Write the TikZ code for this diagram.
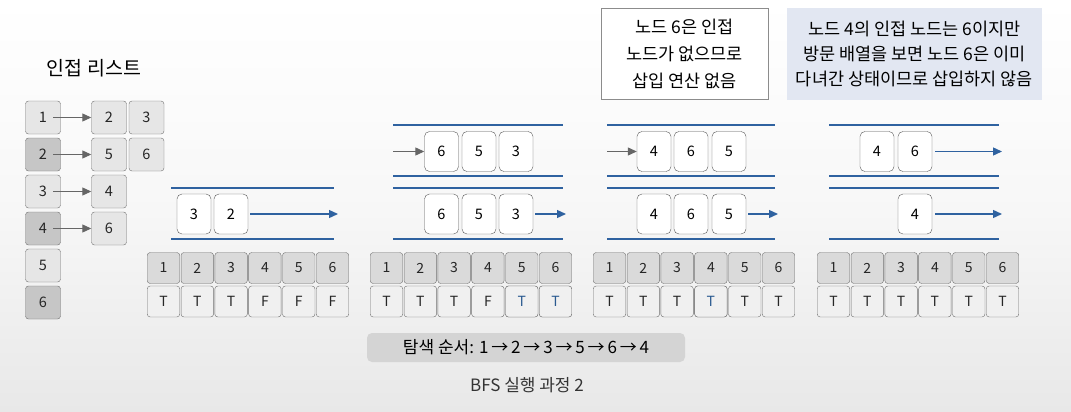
\documentclass[tikz,border=0pt]{standalone}
\usepackage{fontspec}
\setmainfont{Noto Sans CJK KR}
\usetikzlibrary{arrows.meta,calc}
\definecolor{qblue}{HTML}{2F62A0}
\definecolor{lgray}{HTML}{E6E6E6}
\definecolor{dgray}{HTML}{C6C6C6}
\definecolor{vtop}{HTML}{DADADA}
\definecolor{vbot}{HTML}{F0F0F0}
\definecolor{bord}{HTML}{707070}
\definecolor{note}{HTML}{E2E7F2}
\definecolor{tblue}{HTML}{2A5A90}
\tikzset{
  adj/.style={draw=bord, rounded corners=3pt, minimum width=35pt, minimum height=33pt, inner sep=0pt, font=\fontsize{14.5}{16}\selectfont, text=black!85},
  qbox/.style={draw=black!65, fill=white, rounded corners=5pt, minimum width=34pt, minimum height=40pt, inner sep=0pt, font=\fontsize{14.5}{16}\selectfont},
  vcell/.style={draw=bord, rounded corners=3pt, minimum width=32.5pt, minimum height=31pt, inner sep=0pt, font=\fontsize{14}{16}\selectfont, text=black!85},
  qline/.style={draw=qblue, line width=1.2pt},
  barrow/.style={draw=qblue, line width=1.3pt, -{Triangle[length=9pt,width=8pt]}},
  garrow/.style={draw=black!60, line width=1.2pt, -{Triangle[length=9pt,width=8pt]}},
}
\begin{document}
\begin{tikzpicture}[x=1pt,y=-1pt]
\useasboundingbox (0,0) rectangle (1071,412);
\fill[top color=white, bottom color=black!9, middle color=white!97!black] (0,0) rectangle (1071,412);

% title
\node[font=\fontsize{19.5}{22}\selectfont] (title) at (94,68) {인접 리스트};

% adjacency list
\foreach \i/\c in {1/lgray,2/dgray,3/lgray,4/dgray,5/lgray,6/dgray}{
  \node[adj, fill=\c] (l\i) at (43,{117.5+37*(\i-1)}) {\i};
}
\node[adj, fill=lgray] (r11) at (109,117.5) {2};
\node[adj, fill=lgray] (r12) at (146.5,117.5) {3};
\node[adj, fill=lgray] (r21) at (109,154.5) {5};
\node[adj, fill=lgray] (r22) at (146.5,154.5) {6};
\node[adj, fill=lgray] (r31) at (109,191.5) {4};
\node[adj, fill=lgray] (r41) at (109,228.5) {6};
\foreach \i/\j in {1/r11,2/r21,3/r31,4/r41}{
  \draw[garrow, shorten <=10pt, line width=1pt] (l\i.center) -- (\j.west);
}

% panel 1
\draw[qline] (171,188) -- (334,188);
\draw[qline] (171,239) -- (334,239);
\node[qbox] (pa1) at (194,214) {3};
\node[qbox] (pa2) at (231,214) {2};
\coordinate (pae) at (338,214);
\draw[barrow] ([xshift=2pt]pa2.east) -- (pae);

% panel 2
\draw[qline] (393,125) -- (563,125);
\draw[qline] (393,176) -- (563,176);
\draw[qline] (393,188) -- (563,188);
\draw[qline] (393,239) -- (563,239);
\node[qbox] (pbt1) at (441.5,151.5) {6};
\node[qbox] (pbt2) at (479,151.5) {5};
\node[qbox] (pbt3) at (516,151.5) {3};
\node[qbox] (pbb1) at (441.5,214) {6};
\node[qbox] (pbb2) at (479,214) {5};
\node[qbox] (pbb3) at (516,214) {3};
\coordinate (pbs) at (393,151.5);
\coordinate (pbe) at (566,214);
\draw[garrow] (pbs) -- (pbt1.west);
\draw[barrow] ([xshift=2pt]pbb3.east) -- (pbe);

% panel 3
\draw[qline] (607,125) -- (775,125);
\draw[qline] (607,176) -- (775,176);
\draw[qline] (607,188) -- (775,188);
\draw[qline] (607,239) -- (775,239);
\node[qbox] (pct1) at (654,151.5) {4};
\node[qbox] (pct2) at (691,151.5) {6};
\node[qbox] (pct3) at (729,151.5) {5};
\node[qbox] (pcb1) at (654,214) {4};
\node[qbox] (pcb2) at (691,214) {6};
\node[qbox] (pcb3) at (729,214) {5};
\coordinate (pcs) at (607,151.5);
\coordinate (pce) at (778,214);
\draw[garrow] (pcs) -- (pct1.west);
\draw[barrow] ([xshift=2pt]pcb3.east) -- (pce);

% panel 4
\draw[qline] (829,125) -- (999,125);
\draw[qline] (829,176) -- (999,176);
\draw[qline] (829,188) -- (999,188);
\draw[qline] (829,239) -- (999,239);
\node[qbox] (pdt1) at (877,151.5) {4};
\node[qbox] (pdt2) at (915,151.5) {6};
\node[qbox] (pdb1) at (915,214) {4};
\coordinate (pdte) at (1002,151.5);
\coordinate (pdbe) at (1002,214);
\draw[barrow] ([xshift=3pt]pdt2.east) -- (pdte);
\draw[barrow] ([xshift=3pt]pdb1.east) -- (pdbe);

% visited arrays
\foreach \p/\x/\v in {a/147/{T,T,T,F,F,F}, b/370/{T,T,T,F,T,T}, c/593/{T,T,T,T,T,T}, d/817/{T,T,T,T,T,T}}{
  \foreach \k [count=\n] in \v {
    \node[vcell, fill=vtop] (v\p h\n) at ({\x+16.5+33.8*(\n-1)},268) {\n};
    \node[vcell, fill=vbot] (v\p b\n) at ({\x+16.5+33.8*(\n-1)},301.5) {\k};
  }
}
% blue T's
\node[vcell, fill=vbot, text=tblue] at (vbb5) {T};
\node[vcell, fill=vbot, text=tblue] at (vbb6) {T};
\node[vcell, fill=vbot, text=tblue] at (vcb4) {T};

% note boxes
\node[draw=black!45, fill=white, minimum width=167pt, minimum height=91pt, inner sep=0pt,
      align=center, font=\fontsize{17.5}{27}\selectfont] (noteA) at (684.5,53.5)
      {노드 6은 인접\\노드가 없으므로\\삽입 연산 없음};
\node[fill=note, minimum width=255pt, minimum height=92pt, inner sep=0pt,
      align=center, font=\fontsize{17.5}{25}\selectfont] (noteB) at (914.5,54)
      {노드 4의 인접 노드는 6이지만\\방문 배열을 보면 노드 6은 이미\\다녀간 상태이므로 삽입하지 않음};

% search order
\node[fill=black!17, rounded corners=5pt, minimum width=318pt, minimum height=29pt, inner sep=0pt,
      font=\fontsize{17}{19}\selectfont] (order) at (526,347.5)
      {탐색 순서: 1\,→\,2\,→\,3\,→\,5\,→\,6\,→\,4};
\node[font=\fontsize{17}{19}\selectfont, text=black!80] (cap) at (527,385) {BFS 실행 과정 2};
\end{tikzpicture}
\end{document}
